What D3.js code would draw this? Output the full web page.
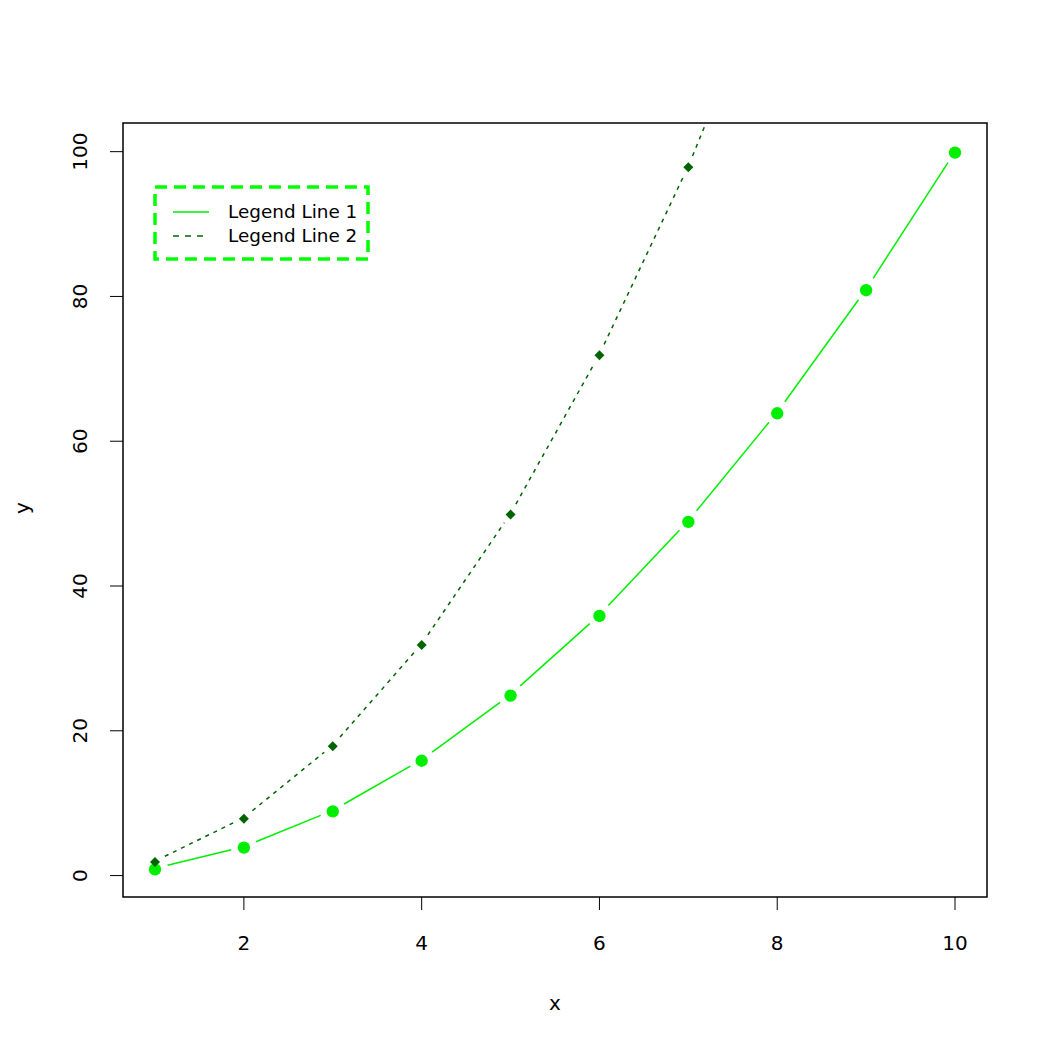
<!DOCTYPE html>
<html><head><meta charset="utf-8">
<script src="https://cdn.jsdelivr.net/npm/d3@7"></script>
<style>body{margin:0;background:#fff;} text{font-family:"DejaVu Sans",sans-serif;}</style>
</head><body>
<script>
const xs = [1,2,3,4,5,6,7,8,9,10];
const y1 = [1,4,9,16,25,36,49,64,81,100];
const y2 = [2,8,18,32,50,72,98,128,162,200];
const xTicks = [2,4,6,8,10];
const yTicks = [0,20,40,60,80,100];
const legendLabels = ["Legend Line 1","Legend Line 2"];

const W=1050,H=1050;
const L=123,R=987,T=123,B=897;
const svg=d3.select("body").append("svg").attr("width",W).attr("height",H);
const x=d3.scaleLinear().domain([0.64,10.36]).range([L,R]);
const y=d3.scaleLinear().domain([-2.96,103.96]).range([B,T]);

svg.append("defs").append("clipPath").attr("id","clip")
 .append("rect").attr("x",L).attr("y",T).attr("width",R-L).attr("height",B-T);

const g=svg.append("g").attr("clip-path","url(#clip)");

function drawSeries(vals,color,dash,gap,sym){
  const pts=xs.map((d,i)=>[x(d),y(vals[i])]);
  const segs=[];
  for(let i=0;i<pts.length-1;i++){
    const [ax,ay]=pts[i],[bx,by]=pts[i+1];
    const len=Math.hypot(bx-ax,by-ay);
    if(len<=2*gap) continue;
    const ux=(bx-ax)/len,uy=(by-ay)/len;
    segs.push([ax+ux*gap,ay+uy*gap,bx-ux*gap,by-uy*gap]);
  }
  g.selectAll(null).data(segs).enter().append("line")
   .attr("x1",d=>d[0]).attr("y1",d=>d[1]).attr("x2",d=>d[2]).attr("y2",d=>d[3])
   .attr("stroke",color).attr("stroke-width",1.5).attr("stroke-dasharray",dash);
  g.selectAll(null).data(pts).enter().append("path")
   .attr("transform",d=>`translate(${d[0]},${d[1]+1})`)
   .attr("d",sym).attr("fill",color);
}
drawSeries(y1,"#00ee00",null,13,d3.symbol(d3.symbolCircle,120)());
drawSeries(y2,"#006400","4,5",11,"M0,-5L5,0L0,5L-5,0Z");

// box
svg.append("rect").attr("x",L).attr("y",T).attr("width",R-L).attr("height",B-T)
 .attr("fill","none").attr("stroke","#000").attr("stroke-width",1.5);

// x axis
const xa=svg.append("g");
xTicks.forEach(t=>{
  xa.append("line").attr("x1",x(t)).attr("x2",x(t)).attr("y1",B).attr("y2",B+13).attr("stroke","#000").attr("stroke-width",1);
  xa.append("text").attr("x",x(t)).attr("y",950).attr("text-anchor","middle").attr("font-size",20).text(t);
});
const ya=svg.append("g");
yTicks.forEach(t=>{
  ya.append("line").attr("x1",L).attr("x2",L-13).attr("y1",y(t)).attr("y2",y(t)).attr("stroke","#000").attr("stroke-width",1);
  ya.append("text").attr("transform",`translate(87,${y(t)}) rotate(-90)`).attr("text-anchor","middle").attr("font-size",20).text(t);
});
svg.append("text").attr("x",555).attr("y",1010).attr("text-anchor","middle").attr("font-size",20).text("x");
svg.append("text").attr("transform","translate(29,508) rotate(-90)").attr("text-anchor","middle").attr("font-size",20).text("y");

// legend
svg.append("rect").attr("x",155).attr("y",187).attr("width",213).attr("height",72)
 .attr("fill","none").attr("stroke","#00ff00").attr("stroke-width",3.5).attr("stroke-dasharray","12,7");
const lg=[{c:"#00ee00",d:null,y:212},{c:"#006400",d:"6,6",y:236}];
lg.forEach((l,i)=>{
  svg.append("line").attr("x1",173).attr("x2",209).attr("y1",l.y).attr("y2",l.y)
   .attr("stroke",l.c).attr("stroke-width",1.5).attr("stroke-dasharray",l.d);
  svg.append("text").attr("x",228).attr("y",l.y+6).attr("font-size",18.4).text(legendLabels[i]);
});
</script>
</body></html>
